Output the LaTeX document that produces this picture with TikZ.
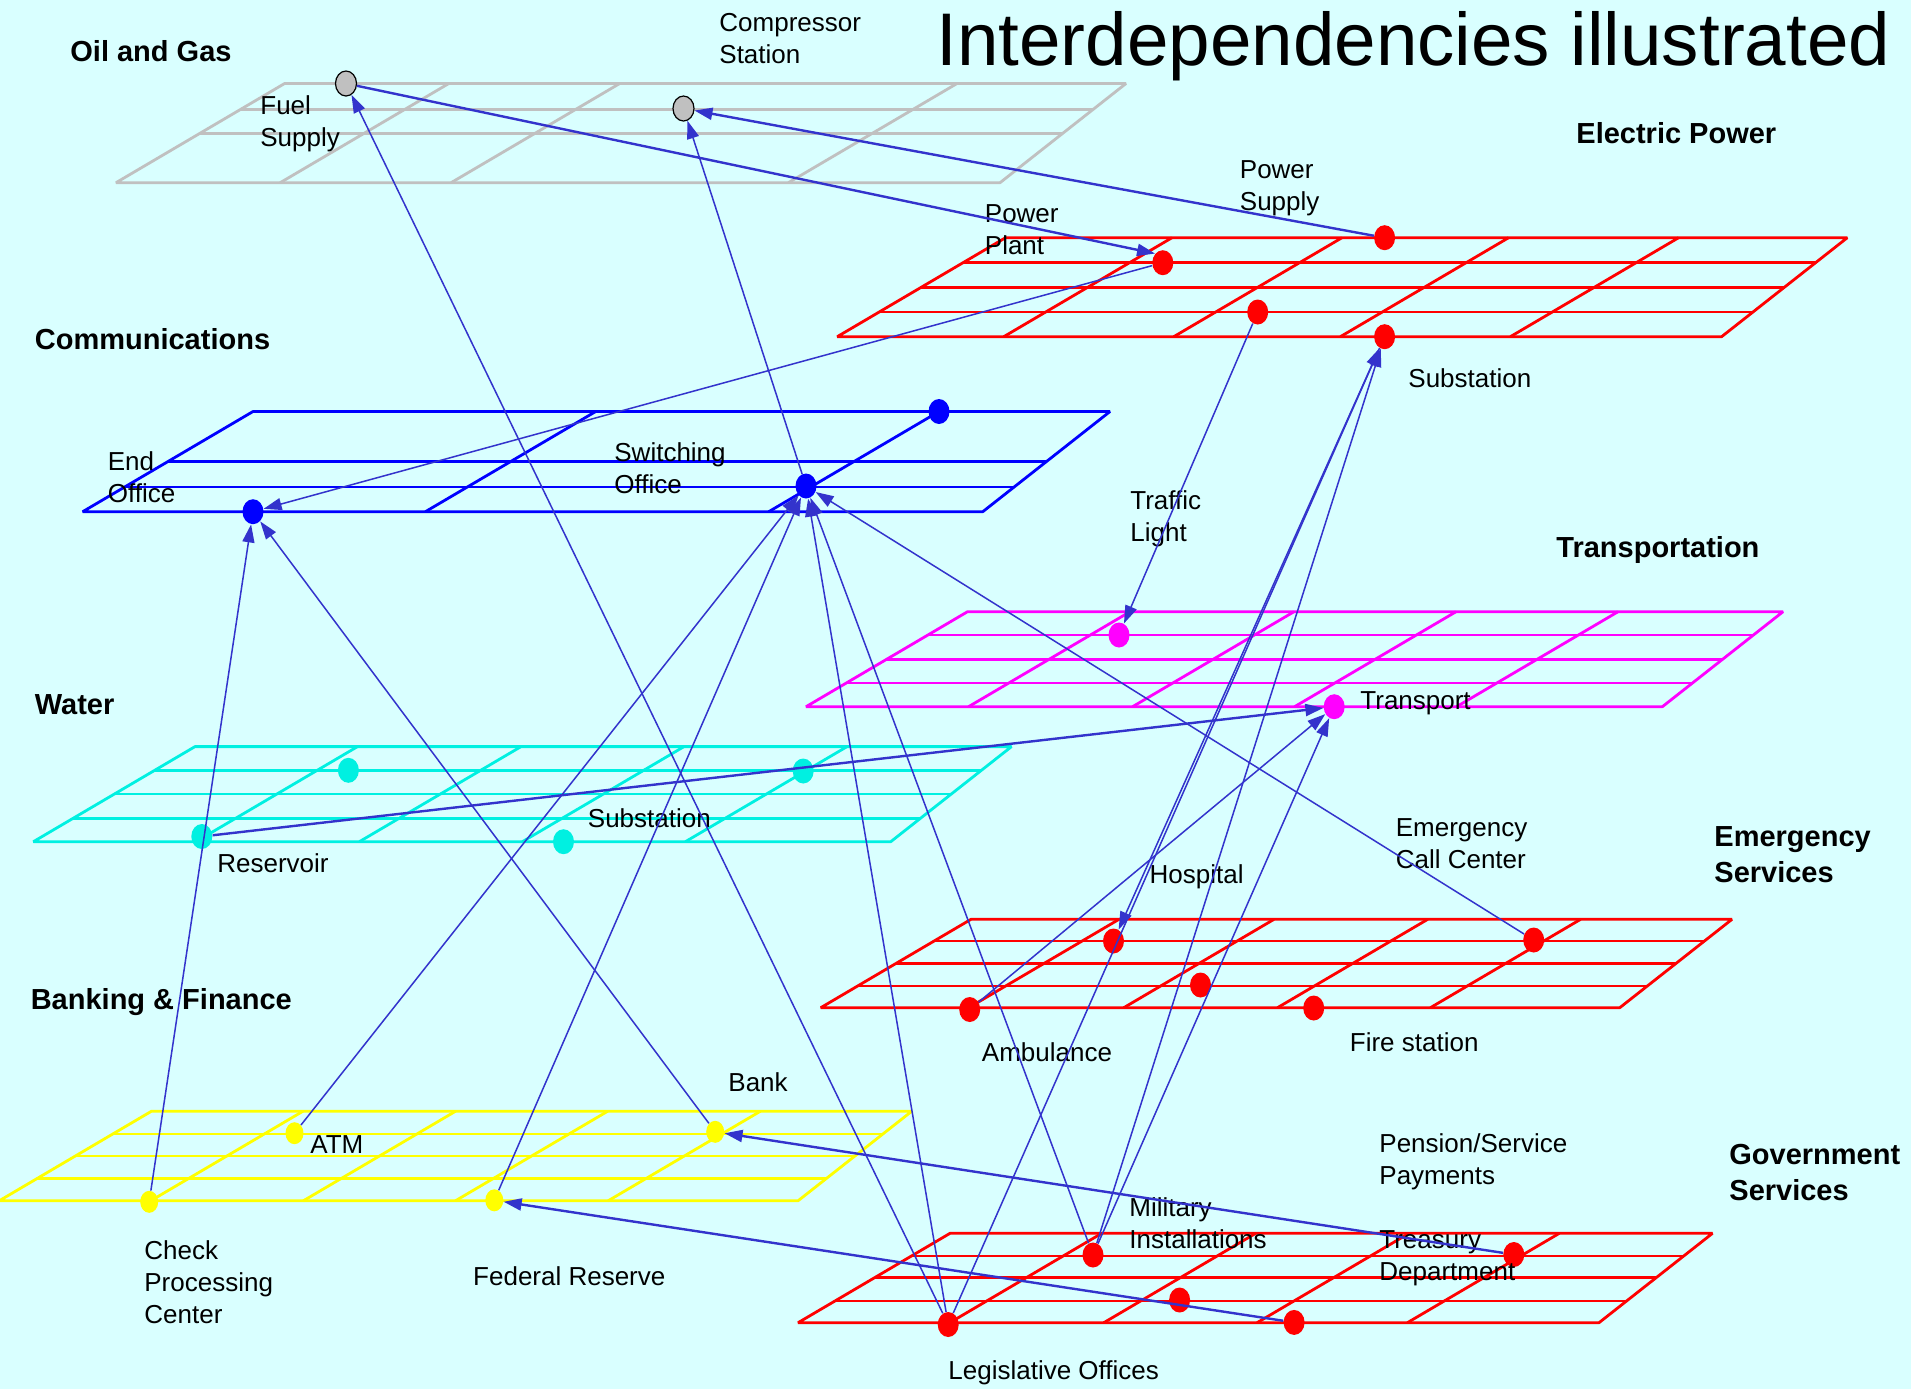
\documentclass[tikz,border=0pt]{standalone}
\usepackage{fontspec}
\setmainfont{Liberation Sans}
\usepackage{tikz}
\usetikzlibrary{
    arrows.meta,
    shapes.geometric,
}
\definecolor{sky}{RGB}{217,255,255}
\definecolor{linkblue}{RGB}{51,51,204}
\definecolor{gasgray}{RGB}{192,192,192}
\definecolor{powerred}{RGB}{255,0,0}
\definecolor{commblue}{RGB}{0,0,255}
\definecolor{transpink}{RGB}{255,0,255}
\definecolor{watercyan}{RGB}{0,240,225}
\definecolor{bankyellow}{RGB}{255,255,0}
\tikzset{
    % Grid styles
    grid line/.style={line width=1.4pt, line join=bevel},
    gas grid/.style={grid line, gasgray},
    power grid/.style={grid line, powerred},
    comm grid/.style={grid line, commblue},
    trans grid/.style={grid line, transpink},
    water grid/.style={grid line, watercyan},
    bank grid/.style={grid line, bankyellow},
    % Hub styles
    hub/.style={ellipse, minimum width=10.5pt, minimum height=12.5pt, inner sep=0pt},
    gas hub/.style={hub, fill=gasgray, draw=black, line width=0.6pt},
    power hub/.style={hub, fill=powerred},
    comm hub/.style={hub, fill=commblue},
    trans hub/.style={hub, fill=transpink},
    water hub/.style={hub, fill=watercyan},
    bank hub/.style={hub, fill=bankyellow, minimum width=9pt, minimum height=11pt},
    % Arrow styles
    link/.style={-{Triangle[length=9pt, width=6pt]}, linkblue, line width=0.75pt},
    heavy link/.style={link, line width=1.2pt},
    % Text styles
    site/.style={anchor=west, align=left, inner sep=0pt, font=\fontsize{13pt}{16pt}\selectfont},
    layer title/.style={site, font=\bfseries\fontsize{14.5pt}{18pt}\selectfont},
}
% style, top y, bottom y, top-left x, top-right x, inner rows, inner columns
\newcommand{\gridlayer}[7]{%
    \draw[#1] (#4,#2) -- (#5,#2) -- ({#5-1.27*(#3-#2)},#3) -- ({#4-1.7*(#3-#2)},#3) -- cycle;
    \foreach \y in {#6}
        \draw[#1] ({#4-1.7*(\y-#2)},\y) -- ({#5-1.27*(\y-#2)},\y);
    \foreach \x in {#7}
        \draw[#1] (\x,#2) -- ({\x-1.7*(#3-#2)},#3);
}
\begin{document}
\begin{tikzpicture}[x=0.5pt, y=-0.5pt]
    \path[use as bounding box, fill=sky] (0,0) rectangle (1911,1389);

    % Layer grids
    \gridlayer{gas grid}{83.5}{182.7}{284.6}{1126}{109.2, 133.3}{448.8, 619.7, 957}
    \gridlayer{power grid}{237.7}{336.7}{1005.5}{1847.3}{262.7, 287.3, 312}{1172, 1342, 1508.6, 1678.6}
    \gridlayer{comm grid}{411.5}{511.7}{253}{1110}{461.7, 487}{595.7, 939}
    \gridlayer{trans grid}{611.7}{706.7}{967.5}{1783}{635, 659.2, 683}{1130, 1294, 1456, 1618}
    \gridlayer{water grid}{746.6}{841.7}{195}{1011.5}{770.2, 794, 818.2}{357.5, 521, 684, 847}
    \gridlayer{power grid}{919.3}{1007.7}{971}{1732}{941, 963.3, 986}{1119, 1274, 1427.7, 1580.6}
    \gridlayer{bank grid}{1111.2}{1200.8}{151.5}{911.8}{1133.9, 1156, 1178.7}{303, 455.6, 607.7, 760.4}
    \gridlayer{power grid}{1233.3}{1322.7}{950}{1712.5}{1256, 1277.7, 1301}{1101.7, 1255.7, 1409, 1559.3}

    % Oil and Gas
    \node[gas hub] (fuel) at (346,83.5) {};
    \node[gas hub] (compressor) at (683.5,108.5) {};
    \node[layer title] (gastitle) at (70,51.5) {Oil and Gas};
    \node[site] (compressorlbl) at (719,39) {Compressor\\Station};
    \node[site] (fuellbl) at (260,123.5) {Fuel\\Supply};
    \node[anchor=base west, inner sep=0pt, font=\fontsize{37.3pt}{40pt}\selectfont] (title) at (936,65) {Interdependencies illustrated};

    % Electric Power
    \node[power hub] (psupply) at (1384.6,237.7) {};
    \node[power hub] (pplant) at (1162.8,262.7) {};
    \node[power hub] (feeder) at (1257.7,312) {};
    \node[power hub] (esub) at (1384.6,336.7) {};
    \node[layer title] (powertitle) at (1576,133) {Electric Power};
    \node[site] (pplantlbl) at (984.5,230) {Power\\Plant};
    \node[site] (psupplylbl) at (1239.5,188) {Power\\Supply};
    \node[site] (esublbl) at (1408,378) {Substation};

    % Communications
    \node[comm hub] (commhub) at (939,411.5) {};
    \node[comm hub] (endoffice) at (253,511.7) {};
    \node[comm hub] (switching) at (806,486) {};
    \node[layer title] (commtitle) at (34.5,339) {Communications};
    \node[site] (endlbl) at (107.5,477) {End\\Office};
    \node[site] (switchlbl) at (614,468.5) {Switching\\Office};

    % Transportation
    \node[trans hub] (traffic) at (1119,635) {};
    \node[trans hub] (transport) at (1334.2,706.7) {};
    \node[site] (trafficlbl) at (1130,519) {Traffic\\Light};
    \node[layer title] (transtitle) at (1556,549.7) {Transportation};
    \node[site] (transportlbl) at (1360,703) {Transport};

    % Water
    \node[water hub] (wdota) at (348.4,770.3) {};
    \node[water hub] (wdotb) at (803.2,771) {};
    \node[water hub] (reservoir) at (201.8,836.5) {};
    \node[water hub] (wsub) at (563.5,841.7) {};
    \node[layer title] (watertitle) at (34.5,704.2) {Water};
    \node[site] (wsublbl) at (587.5,818) {Substation};
    \node[site] (reservoirlbl) at (217,863) {Reservoir};

    % Emergency Services
    \node[power hub] (hospital) at (1113.5,941) {};
    \node[power hub] (callcenter) at (1533.7,940) {};
    \node[power hub] (emdot) at (1200.5,985) {};
    \node[power hub] (ambulance) at (969.7,1009.5) {};
    \node[power hub] (firestation) at (1313.7,1008) {};
    \node[site] (hospitallbl) at (1149.3,876.5) {Hospital};
    \node[site] (calllbl) at (1395.4,843.5) {Emergency\\Call Center};
    \node[layer title] (emtitle) at (1714,854.5) {Emergency\\Services};
    \node[site] (ambulancelbl) at (981.5,1052) {Ambulance};
    \node[site] (firelbl) at (1349.5,1042.5) {Fire station};

    % Banking & Finance
    \node[bank hub] (atm) at (294.5,1133.2) {};
    \node[bank hub] (bank) at (715.2,1131.8) {};
    \node[bank hub] (check) at (149.2,1201.8) {};
    \node[bank hub] (fedres) at (494.3,1200.3) {};
    \node[layer title] (banktitle) at (30.4,1001.7) {Banking \& Finance};
    \node[site] (banklbl) at (728,1082.5) {Bank};
    \node[site] (atmlbl) at (310,1144.5) {ATM};
    \node[site] (checklbl) at (144,1282) {Check\\Processing\\Center};
    \node[site] (fedlbl) at (472.8,1276) {Federal Reserve};

    % Government Services
    \node[power hub] (military) at (1093,1255) {};
    \node[power hub] (treasury) at (1513.8,1254.5) {};
    \node[power hub] (govdot) at (1179.6,1300) {};
    \node[power hub] (legis) at (948.2,1324.5) {};
    \node[power hub] (paydot) at (1294.1,1322.4) {};
    \node[site] (pensionlbl) at (1379,1162) {Pension/Service\\Payments};
    \node[layer title] (govtitle) at (1729,1172.5) {Government\\Services};
    \node[site] (militarylbl) at (1129,1223) {Military\\Installations};
    \node[site] (treasurylbl) at (1379,1258.5) {Treasury\\Department};
    \node[site] (legislbl) at (948,1372.5) {Legislative Offices};

    % Dependencies
    \draw[heavy link] (fuel) -- (pplant.north west);
    \draw[heavy link] (psupply) -- (compressor);
    \draw[link] (pplant) -- (endoffice);
    \draw[link] (check) -- (endoffice);
    \draw[link] (bank) -- (endoffice);
    \draw[link] (legis) -- (fuel);
    \draw[link] (switching) -- (compressor);
    \draw[link] (atm) -- (switching);
    \draw[link] (fedres) -- (switching);
    \draw[link] (legis) -- (switching);
    \draw[link] (military) -- (switching);
    \draw[link] (callcenter) -- (switching);
    \draw[link] (feeder) -- (traffic);
    \draw[link] (esub) -- (hospital);
    \draw[link] (military) -- (esub);
    \draw[link] (legis) -- (esub);
    \draw[heavy link] (reservoir) -- (transport);
    \draw[link] (ambulance) -- (transport);
    \draw[link] (military) -- (transport);
    \draw[heavy link] (treasury) -- (bank);
    \draw[heavy link] (paydot) -- (fedres);
\end{tikzpicture}
\end{document}
